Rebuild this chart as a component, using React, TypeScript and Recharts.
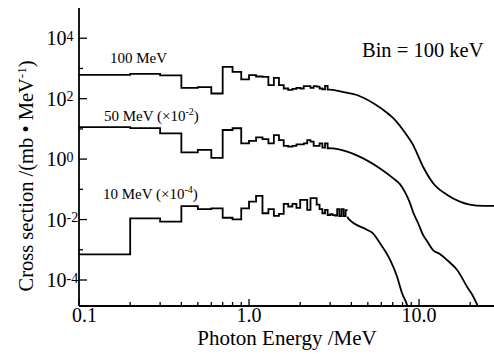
import React from 'react';
import { LineChart, Line, XAxis, YAxis } from 'recharts';

const FONT = '"Liberation Serif", "Times New Roman", serif';

// Histogram bin lower edges (Bin = 100 keV)
const BINS_A = [0.1, 0.2, 0.3, 0.4, 0.5, 0.6, 0.7, 0.8, 0.9, 1.0, 1.1, 1.2, 1.3, 1.4, 1.5, 1.6, 1.7, 1.8, 1.9, 2.0, 2.1, 2.2, 2.3, 2.4, 2.5, 2.6, 2.7, 2.8, 2.9];
const BINS_A_END = 3.0;
const BINS_B = [0.1, 0.2, 0.3, 0.4, 0.5, 0.6, 0.7, 0.8, 0.9, 1.0, 1.1, 1.2, 1.3, 1.4, 1.5, 1.6, 1.7, 1.8, 1.9, 2.0, 2.1, 2.2, 2.3, 2.4, 2.5, 2.6, 2.7, 2.8, 2.9, 3.0, 3.1, 3.2, 3.3, 3.4, 3.5, 3.6, 3.7];
const BINS_B_END = 3.8;

// 100 MeV
const MEV100_STEPS = [617, 665, 590, 228, 240, 148, 1120, 770, 437, 598, 542, 526, 279, 490, 279, 217, 195, 210, 228, 217, 259, 259, 228, 259, 250, 217, 202, 265, 200];
const MEV100_CURVE_E = [3.0, 3.12, 3.5, 4.31, 5.36, 6.5, 7.03, 8.05, 9.22, 10.56, 12.08, 14.59, 17.4, 21.9, 27.6];
const MEV100_CURVE_S = [200, 194, 170, 132, 72, 33.7, 23, 9.2, 2.95, 0.56, 0.162, 0.066, 0.039, 0.029, 0.0284];

// 50 MeV (x1e-2)
const MEV50_STEPS = [11.4, 10.6, 7.08, 1.66, 2.03, 1.1, 9.2, 10.5, 3.31, 4.03, 5.2, 4.57, 3.31, 6.24, 4.27, 2.75, 2.57, 2.75, 3.06, 3.06, 3.31, 4.27, 3.8, 2.75, 2.75, 3.31, 2.4, 3.31, 2.29];
const MEV50_CURVE_E = [3.0, 3.12, 4.5, 5.9, 7.03, 7.72, 8.27, 8.85, 9.22, 9.87, 10.56, 11.16, 12.08, 13.26, 14.59, 16.76, 19.2, 20.6, 22.0, 22.9];
const MEV50_CURVE_S = [2.29, 2.25, 1.19, 0.49, 0.235, 0.149, 0.081, 0.035, 0.0178, 0.0077, 0.0031, 0.0019, 0.00098, 0.00072, 0.00046, 0.000214, 0.000059, 0.000032, 0.000015, 0.0000089];

// 10 MeV (x1e-4)
const MEV10_STEPS = [0.00071, 0.011, 0.0085, 0.0279, 0.0222, 0.0234, 0.0115, 0.0102, 0.0234, 0.039, 0.0607, 0.0162, 0.0221, 0.0132, 0.0155, 0.033, 0.027, 0.033, 0.0245, 0.0447, 0.0447, 0.021, 0.051, 0.051, 0.031, 0.0221, 0.0162, 0.021, 0.014, 0.0152, 0.0141, 0.0136, 0.0222, 0.0131, 0.0222, 0.0131, 0.0206];
const MEV10_CURVE_E = [3.8, 3.82, 4.94, 5.36, 5.9, 6.75, 7.42, 7.94, 8.5, 8.73];
const MEV10_CURVE_S = [0.0125, 0.0112, 0.0046, 0.0035, 0.00163, 0.00047, 0.000131, 0.000037, 0.000015, 0.0000089];

// Axes
const X_DOMAIN = [0.1, 27.6];
const Y_DOMAIN = [1.38e-5, 1e5];
const X_TICKS = [0.1, 0.2, 0.3, 0.4, 0.5, 0.6, 0.7, 0.8, 0.9, 1, 2, 3, 4, 5, 6, 7, 8, 9, 10, 20];
const X_MAJOR_LABELS: Record<string, string> = { '0.1': '0.1', '1': '1.0', '10': '10.0' };
const Y_TICKS = [1e-4, 1e-3, 1e-2, 1e-1, 1, 10, 100, 1e3, 1e4];

function stepData(bins: number[], end: number, vals: number[]) {
  const d = bins.map((e, i) => ({ e, s: vals[i] }));
  d.push({ e: end, s: vals[vals.length - 1] });
  return d;
}
function curveData(es: number[], ss: number[]) {
  return es.map((e, i) => ({ e, s: ss[i] }));
}

const D100S = stepData(BINS_A, BINS_A_END, MEV100_STEPS);
const D100C = curveData(MEV100_CURVE_E, MEV100_CURVE_S);
const D50S = stepData(BINS_A, BINS_A_END, MEV50_STEPS);
const D50C = curveData(MEV50_CURVE_E, MEV50_CURVE_S);
const D10S = stepData(BINS_B, BINS_B_END, MEV10_STEPS);
const D10C = curveData(MEV10_CURVE_E, MEV10_CURVE_S);

const TK = '#000';

function BottomTick(p: any) {
  const { x, y, payload } = p;
  const v = payload.value;
  const lab = X_MAJOR_LABELS[String(v)];
  return (
    <g>
      <line x1={x} x2={x} y1={y} y2={y - (lab ? 7 : 4)} stroke={TK} strokeWidth={1.3} />
      {lab && (
        <text x={x + (v === 0.1 ? 5.5 : 0)} y={y + 16} textAnchor="middle" fontFamily={FONT} fontSize={20} fill="#000">
          {lab}
        </text>
      )}
    </g>
  );
}

function TopTick(p: any) {
  const { x, y, payload } = p;
  const lab = X_MAJOR_LABELS[String(payload.value)];
  return <line x1={x} x2={x} y1={y} y2={y + (lab ? 6 : 4)} stroke={TK} strokeWidth={1.3} />;
}

function LeftTick(p: any) {
  const { x, y, payload } = p;
  const ex = Math.round(Math.log10(payload.value));
  const major = ex % 2 === 0;
  return (
    <g>
      <line x1={x} x2={x + (major ? 8 : 4)} y1={y} y2={y} stroke={TK} strokeWidth={1.3} />
      {major && (
        <text x={46.5} y={y + 7} textAnchor="start" fontFamily={FONT} fontSize={20} fill="#000">
          10
          <tspan fontSize={14} dy={-4.5}>{String(ex)}</tspan>
        </text>
      )}
    </g>
  );
}

function RightTick(p: any) {
  const { x, y, payload } = p;
  const ex = Math.round(Math.log10(payload.value));
  if (ex % 2 !== 0) return <g />;
  return <line x1={x} x2={x - 5} y1={y} y2={y} stroke={TK} strokeWidth={1.3} />;
}

const lineProps = {
  stroke: '#000',
  strokeWidth: 1.8,
  dot: false,
  activeDot: false,
  isAnimationActive: false,
  dataKey: 's',
  legendType: 'none' as const,
};

export default function App() {
  return (
    <div style={{ position: 'absolute', left: 0, top: 0, width: 494, height: 354, background: '#fff' }}>
      <LineChart width={494} height={354} margin={{ top: 8, right: 0, bottom: 0, left: 0 }}>
        <XAxis
          xAxisId="b"
          dataKey="e"
          type="number"
          scale="log"
          domain={X_DOMAIN}
          allowDataOverflow
          ticks={X_TICKS}
          interval={0}
          tickSize={0}
          tickMargin={0}
          height={48}
          axisLine={{ stroke: '#000', strokeWidth: 1.8 }}
          tickLine={false}
          tick={BottomTick}
        />
        <XAxis
          xAxisId="t"
          orientation="top"
          dataKey="e"
          type="number"
          scale="log"
          domain={X_DOMAIN}
          allowDataOverflow
          ticks={X_TICKS}
          interval={0}
          tickSize={0}
          tickMargin={0}
          height={0}
          axisLine={{ stroke: '#000', strokeWidth: 1.8 }}
          tickLine={false}
          tick={TopTick}
        />
        <YAxis
          yAxisId="l"
          type="number"
          scale="log"
          domain={Y_DOMAIN}
          allowDataOverflow
          ticks={Y_TICKS}
          interval={0}
          tickSize={0}
          tickMargin={0}
          width={79}
          axisLine={{ stroke: '#000', strokeWidth: 1.8 }}
          tickLine={false}
          tick={LeftTick}
        />
        <YAxis
          yAxisId="r"
          orientation="right"
          type="number"
          scale="log"
          domain={Y_DOMAIN}
          allowDataOverflow
          ticks={Y_TICKS}
          interval={0}
          tickSize={0}
          tickMargin={0}
          width={0}
          axisLine={false}
          tickLine={false}
          tick={RightTick}
        />
        <Line {...lineProps} xAxisId="b" yAxisId="l" data={D100S} type="stepAfter" />
        <Line {...lineProps} xAxisId="b" yAxisId="l" data={D100C} type="monotone" />
        <Line {...lineProps} xAxisId="b" yAxisId="l" data={D50S} type="stepAfter" />
        <Line {...lineProps} xAxisId="b" yAxisId="l" data={D50C} type="monotone" />
        <Line {...lineProps} xAxisId="b" yAxisId="l" data={D10S} type="stepAfter" />
        <Line {...lineProps} xAxisId="b" yAxisId="l" data={D10C} type="monotone" />
      </LineChart>
      <svg
        width={494}
        height={354}
        style={{ position: 'absolute', left: 0, top: 0, pointerEvents: 'none' }}
        fontFamily={FONT}
      >
        <text x={110} y={63} fontSize={15} fill="#000">100 MeV</text>
        <text x={104} y={121} fontSize={15} fill="#000">
          50 MeV (×10<tspan fontSize={10} dy={-6}>-2</tspan><tspan dy={6}>)</tspan>
        </text>
        <text x={103} y={199} fontSize={15} fill="#000">
          10 MeV (×10<tspan fontSize={10} dy={-6}>-4</tspan><tspan dy={6}>)</tspan>
        </text>
        <text x={362} y={57} fontSize={20.5} fill="#000">Bin = 100 keV</text>
        <text x={287} y={345} fontSize={21} textAnchor="middle" fill="#000">Photon Energy /MeV</text>
        <text transform="rotate(-90)" x={-176} y={33} fontSize={20.5} textAnchor="middle" fill="#000">
          Cross section /(mb • MeV<tspan fontSize={13} dy={-7}>-1</tspan><tspan dy={7}>)</tspan>
        </text>
      </svg>
    </div>
  );
}
